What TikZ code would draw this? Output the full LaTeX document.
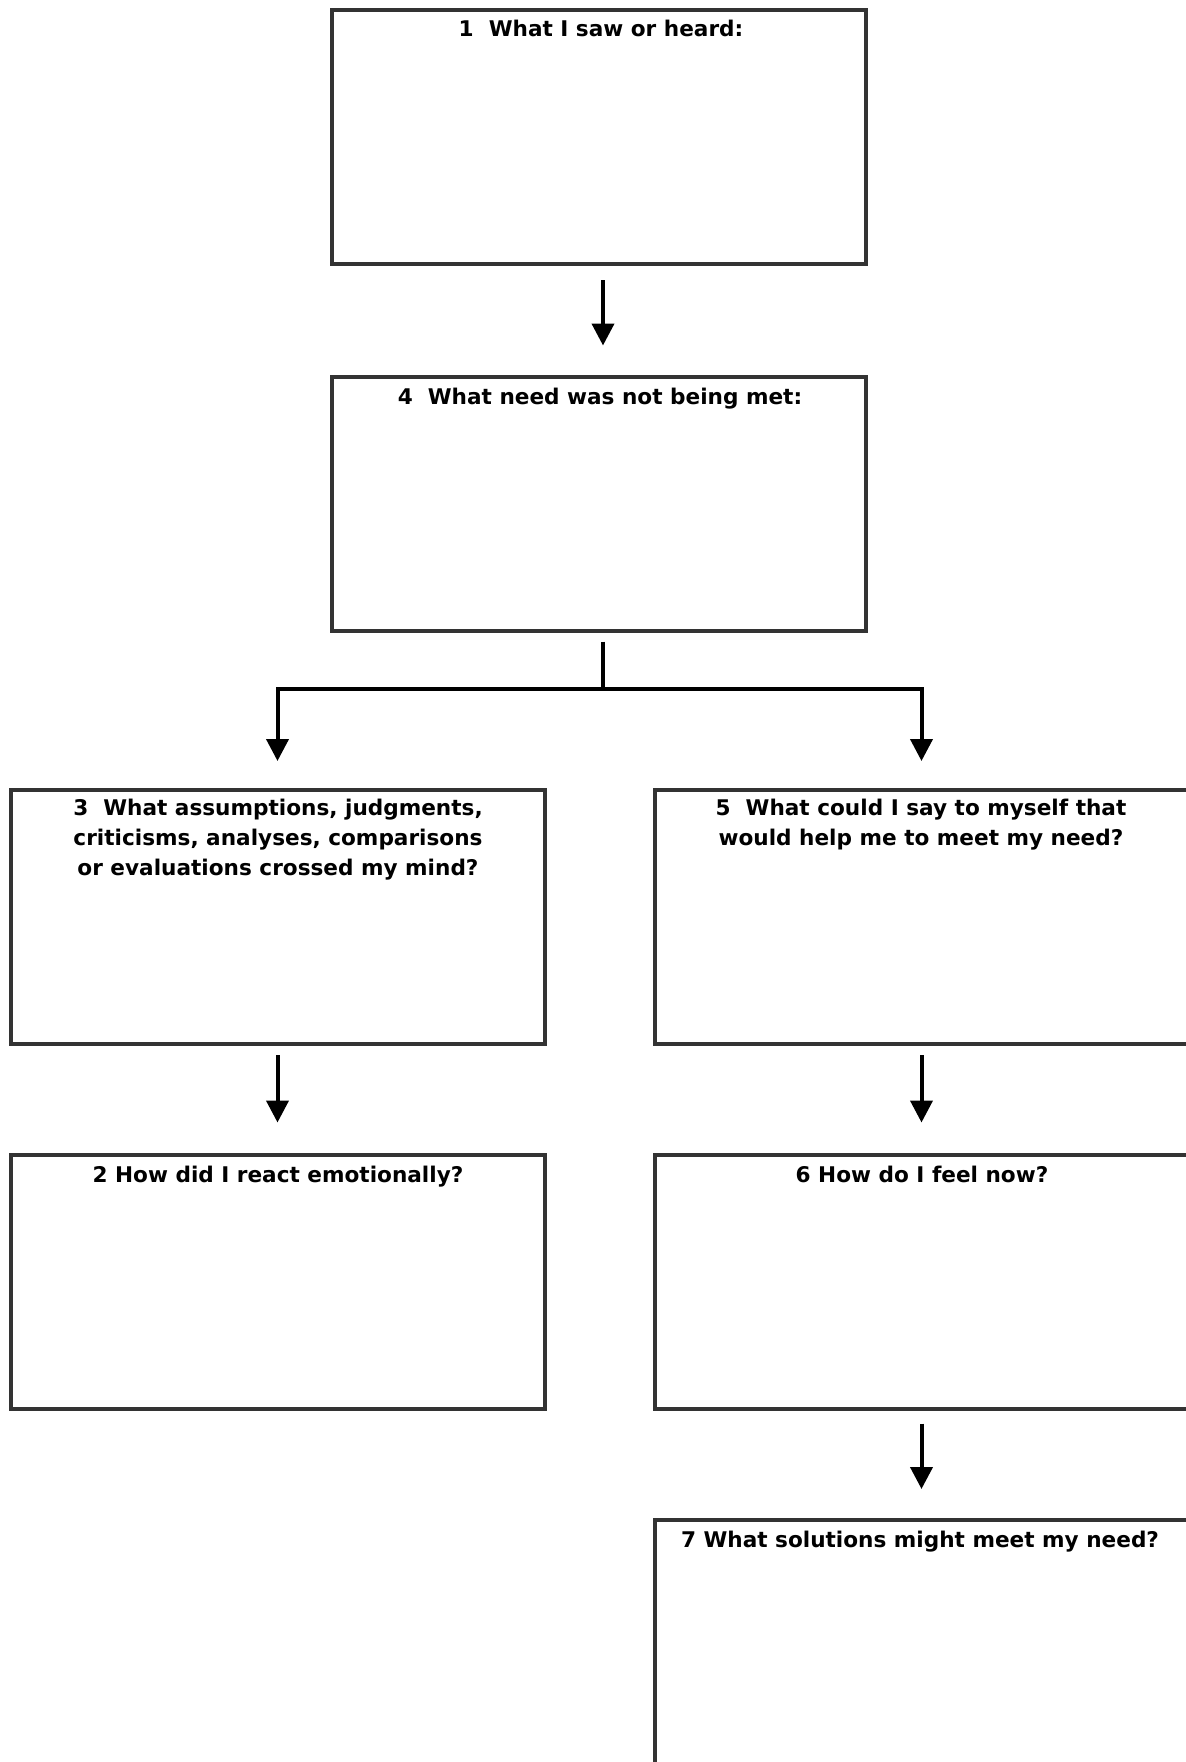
\documentclass[tikz,border=0pt]{standalone}
\usepackage{fontspec}
\setmainfont{DejaVu Sans}
\usetikzlibrary{arrows.meta}
\definecolor{boxgray}{HTML}{333333}
\begin{document}
\begin{tikzpicture}[x=0.5pt,y=-0.5pt,
  box/.style={draw=boxgray, line width=2pt, rectangle, minimum width=267pt, minimum height=127pt, inner sep=0pt, fill=white},
  title/.style={anchor=north, align=center, inner sep=0pt, font=\bfseries\fontsize{10.8}{15}\selectfont, text=black},
  arr/.style={draw=black, line width=2pt, -{Triangle[width=11pt,length=11pt]}},
  plain/.style={draw=black, line width=2pt}]
\useasboundingbox (0,0) rectangle (1186,1762);
\clip (0,0) rectangle (1186,1762);
\fill[white] (0,0) rectangle (1186,1762);
% boxes
\node[box] (b1) at (599,137) {};
\node[box] (b4) at (599,503.5) {};
\node[box] (b3) at (277.5,917) {};
\node[box] (b5) at (921.5,917) {};
\node[box] (b2) at (277.5,1281.5) {};
\node[box] (b6) at (921.5,1281.5) {};
\node[box] (b7) at (921.5,1647) {};
% titles
\node[title] (t1) at (601,20) {1\ \ What I saw or heard:};
\node[title] (t4) at (600,388) {4\ \ What need was not being met:};
\node[title] (t3) at (278,799) {3\ \ What assumptions, judgments,\\criticisms, analyses, comparisons\\or evaluations crossed my mind?};
\node[title] (t5) at (921,799) {5\ \ What could I say to myself that\\would help me to meet my need?};
\node[title] (t2) at (278,1166) {2 How did I react emotionally?};
\node[title] (t6) at (922,1166) {6 How do I feel now?};
\node[title] (t7) at (920,1531) {7 What solutions might meet my need?};
% connectors
\coordinate (split) at (603,689);
\draw[arr, shorten <=7pt, shorten >=14.5pt] ([xshift=2pt]b1.south) -- ([xshift=2pt]b4.north);
\draw[plain, shorten <=4.5pt] ([xshift=2pt]b4.south) -- (split);
\draw[arr, shorten >=13.5pt] (split) -| (b3);
\draw[arr, shorten >=13.5pt] (split) -| (b5);
\draw[arr, shorten <=4.5pt, shorten >=15pt] (b3) -- (b2);
\draw[arr, shorten <=4.5pt, shorten >=15pt] (b5) -- (b6);
\draw[arr, shorten <=6.5pt, shorten >=14.5pt] (b6) -- (b7);
\end{tikzpicture}
\end{document}
